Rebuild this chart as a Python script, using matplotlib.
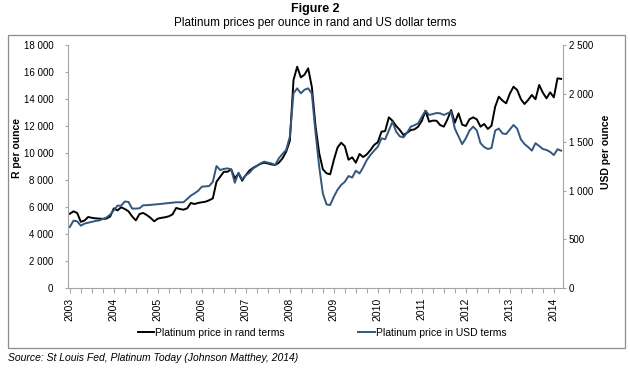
import matplotlib
matplotlib.use('Agg')
import matplotlib.pyplot as plt
from matplotlib.ticker import FuncFormatter, FixedLocator
from matplotlib.patches import Rectangle

plt.rcParams['font.family'] = ['Liberation Sans', 'DejaVu Sans']

# monthly values, Jan 2003 - Mar 2014
rand_price = [5500, 5680, 5560, 4900, 5000, 5260, 5200, 5160, 5140, 5120, 5140, 5300,
              5900, 5750, 5980, 5850, 5680, 5300, 5010, 5480, 5560, 5400, 5200, 4940,
              5140, 5200, 5240, 5310, 5450, 5930, 5850, 5800, 5900, 6300, 6220, 6300,
              6350, 6390, 6500, 6640, 7870, 8240, 8610, 8610, 8790, 8120, 8490, 7950,
              8370, 8700, 8900, 9050, 9200, 9280, 9230, 9150, 9110, 9280, 9600, 10100,
              10900, 15400, 16390, 15600, 15800, 16270, 14900, 12000, 10000, 8800, 8500, 8420,
              9480, 10400, 10760, 10500, 9500, 9680, 9280, 9930, 9700, 9900, 10220, 10600,
              10800, 11580, 11630, 12640, 12390, 12000, 11700, 11330, 11500, 11700, 11750, 11950,
              12390, 13130, 12320, 12400, 12390, 12070, 11950, 12500, 13180, 12240, 12940, 12100,
              12000, 12500, 12640, 12490, 11950, 12150, 11780, 12020, 13430, 14170, 13880, 13680,
              14400, 14910, 14670, 14000, 13630, 13930, 14300, 13980, 15040, 14470, 14050, 14490,
              14120, 15530, 15490]

usd_price = [628, 693, 686, 641, 662, 672, 680, 690, 695, 710, 725, 755,
             800, 847, 847, 890, 885, 817, 817, 820, 851, 852, 855, 858,
             862, 866, 870, 875, 878, 882, 882, 882, 916, 950, 974, 1000,
             1042, 1045, 1049, 1093, 1255, 1214, 1225, 1231, 1220, 1083, 1186, 1118,
             1160, 1186, 1230, 1255, 1282, 1300, 1290, 1282, 1265, 1334, 1380, 1420,
             1557, 2003, 2054, 2003, 2040, 2054, 2000, 1600, 1250, 974, 860, 854,
             939, 1010, 1060, 1093, 1152, 1136, 1207, 1178, 1242, 1317, 1370, 1413,
             1454, 1540, 1530, 1620, 1711, 1608, 1560, 1550, 1600, 1660, 1675, 1694,
             1762, 1824, 1780, 1790, 1800, 1797, 1780, 1797, 1814, 1640, 1560, 1480,
             1540, 1620, 1660, 1620, 1490, 1450, 1430, 1440, 1620, 1640, 1590, 1584,
             1630, 1677, 1640, 1530, 1481, 1450, 1413, 1490, 1461, 1430, 1420, 1400,
             1368, 1427, 1413]

years = [str(y) for y in range(2003, 2015)]

n = len(rand_price)
x = list(range(n))

fig = plt.figure(figsize=(6.3, 3.68), dpi=100)
W, H = 630, 368
ax_l, ax_r, ax_t, ax_b = 68, 563, 45, 288
ax = fig.add_axes([ax_l / W, (H - ax_b) / H, (ax_r - ax_l) / W, (ax_b - ax_t) / H])
ax2 = ax.twinx()

ax.plot(x, rand_price, color='black', lw=1.4, label='Platinum price in rand terms')
ax2.plot(x, usd_price, color='#34567e', lw=1.4, label='Platinum price in USD terms')

ax.set_xlim(-0.5, n - 0.5)
ax.set_ylim(0, 18000)
ax2.set_ylim(0, 2500)
ax.set_yticks(range(0, 18001, 2000))
ax2.set_yticks(range(0, 2501, 500))

fmt = FuncFormatter(lambda v, p: f'{int(v):,}'.replace(',', ' '))
ax.yaxis.set_major_formatter(fmt)
ax2.yaxis.set_major_formatter(fmt)

ticks = list(range(0, n, 3))
ax.xaxis.set_major_locator(FixedLocator(ticks))
ax.set_xticklabels([years[t // 12] if t % 12 == 0 else '' for t in ticks],
                   rotation=90, fontsize=7.5)

spine_col = '#a6a6a6'
for a in (ax, ax2):
    a.spines['top'].set_visible(False)
    for s in ('left', 'right', 'bottom'):
        a.spines[s].set_color(spine_col)
    a.tick_params(colors=spine_col, labelcolor='black', labelsize=7.5, length=3.5, width=0.8)
ax2.spines['left'].set_visible(False)
ax.spines['right'].set_visible(False)
ax2.spines['bottom'].set_visible(False)
ax.tick_params(axis='y', pad=8, length=2.5, labelsize=7)
ax2.tick_params(axis='y', pad=1.5, length=2.5, labelsize=7)

ax.set_ylabel('R per ounce', fontsize=7.5, fontweight='bold')
ax2.set_ylabel('USD per ounce', fontsize=7.5, fontweight='bold')
# label centres in pixels -> axes coords
ax.yaxis.set_label_coords((17 - ax_l) / (ax_r - ax_l), (ax_b - 148) / (ax_b - ax_t))
ax2.yaxis.set_label_coords((606 - ax_l) / (ax_r - ax_l), (ax_b - 152) / (ax_b - ax_t))
ax.yaxis.label.set_va('center')
ax2.yaxis.label.set_va('center')

# legend
h1, l1 = ax.get_legend_handles_labels()
h2, l2 = ax2.get_legend_handles_labels()
fig.legend(h1 + h2, l1 + l2, loc='center', bbox_to_anchor=(322 / W, (H - 333) / H),
           ncol=2, frameon=False, fontsize=7.5, columnspacing=7, handlelength=1.6,
           handletextpad=0.1)

fig.text(315 / W, 1 - 9 / H, 'Figure 2', ha='center', va='center',
         fontsize=9, fontweight='bold')
fig.text(315 / W, 1 - 23 / H, 'Platinum prices per ounce in rand and US dollar terms',
         ha='center', va='center', fontsize=8.5)
fig.text(8 / W, 1 - 358 / H, 'Source: St Louis Fed, Platinum Today (Johnson Matthey, 2014)',
         ha='left', va='center', fontsize=7.5, style='italic')

fig.patches.append(Rectangle((8 / W, (H - 348) / H), (625 - 8) / W, (348 - 35) / H,
                             transform=fig.transFigure, fill=False,
                             edgecolor='#8c8c8c', lw=0.9))

fig.savefig('out.png', dpi=100)
